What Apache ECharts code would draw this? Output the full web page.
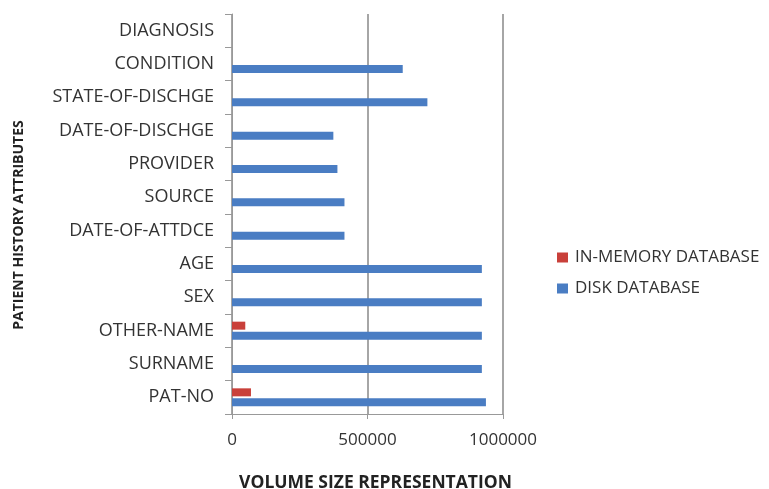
<!DOCTYPE html>
<html><head><meta charset="utf-8">
<script src="https://cdn.jsdelivr.net/npm/echarts@6/dist/echarts.min.js"></script>
<style>html,body{margin:0;padding:0;background:#fff}#c{width:769px;height:489px}</style>
</head><body><div id="c"></div>
<script>
const categories = ['PAT-NO','SURNAME','OTHER-NAME','SEX','AGE','DATE-OF-ATTDCE','SOURCE','PROVIDER','DATE-OF-DISCHGE','STATE-OF-DISCHGE','CONDITION','DIAGNOSIS'];
const inMemory = [70000, 0, 49000, 0, 0, 0, 0, 0, 0, 0, 0, 0];
const disk = [937000, 922000, 922000, 922000, 922000, 415000, 415000, 389000, 374000, 721000, 630000, 0];
const xTicks = [0, 500000, 1000000];

const font = 'Open Sans';
const chart = echarts.init(document.getElementById('c'));
chart.setOption({
  animation: false,
  textStyle: {fontFamily: font},
  grid: {left: 232, right: 266, top: 14, bottom: 75, containLabel: false, outerBoundsMode: 'none'},
  legend: {
    orient: 'vertical', left: 552, top: 244, itemWidth: 11, itemHeight: 10, itemGap: 14,
    icon: 'rect',
    textStyle: {fontFamily: font, fontSize: 17, color: '#333', padding: [0, 0, 0, 2]},
    data: ['IN-MEMORY DATABASE', 'DISK DATABASE']
  },
  xAxis: {
    type: 'value', min: xTicks[0], max: xTicks[2], interval: 500000,
    name: 'VOLUME SIZE REPRESENTATION', nameLocation: 'middle', nameGap: 60,
    nameTextStyle: {fontFamily: font, fontWeight: 'bold', fontSize: 17.5, color: '#222', padding: [0, 0, 0, 16]},
    axisLine: {show: true, lineStyle: {color: '#999'}},
    axisTick: {show: true, length: 5, lineStyle: {color: '#999'}},
    axisLabel: {fontSize: 17, color: '#333', margin: 18, formatter: v => String(v)},
    splitLine: {show: true, lineStyle: {color: '#888', width: 1.5}}
  },
  yAxis: {
    type: 'category', data: categories,
    name: 'PATIENT HISTORY ATTRIBUTES', nameLocation: 'middle', nameGap: 206, nameRotate: 90,
    nameTextStyle: {fontFamily: font, fontWeight: 'bold', fontSize: 14, color: '#222', padding: [0, 22, 0, 0]},
    axisLine: {show: true, lineStyle: {color: '#999'}},
    axisTick: {show: true, length: 7, interval: 0, lineStyle: {color: '#999'}},
    axisLabel: {fontSize: 18, color: '#333', margin: 18}
  },
  series: [
    {name: 'IN-MEMORY DATABASE', type: 'bar', data: inMemory, barWidth: 8, barGap: '25%', itemStyle: {color: '#c9403a'}},
    {name: 'DISK DATABASE', type: 'bar', data: disk, barWidth: 8, barGap: '25%', itemStyle: {color: '#4a7dc3'}}
  ]
});
</script></body></html>
